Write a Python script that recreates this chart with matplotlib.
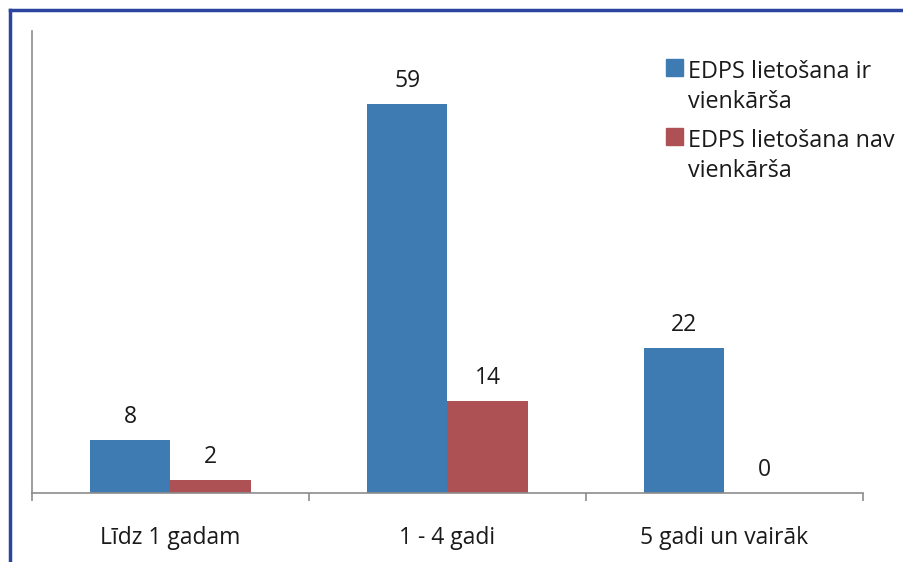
import numpy as np
from matplotlib import pyplot as plt
from matplotlib.lines import Line2D
from matplotlib.patches import Rectangle

categories = ['Līdz 1 gadam', '1 - 4 gadi', '5 gadi un vairāk']
easy_values = [8, 59, 22]
not_easy_values = [2, 14, 0]
series_names = ['EDPS lietošana ir\nvienkārša', 'EDPS lietošana nav\nvienkārša']
series_colors = ['#3F7BB3', '#AE5155']

plt.rcParams['font.family'] = ['Open Sans', 'DejaVu Sans']

W, H = 904, 562
fig = plt.figure(figsize=(W / 100, H / 100), dpi=100)
ax = fig.add_axes([32 / W, (H - 493) / H, (863 - 32) / W, (493 - 31) / H])

x = np.arange(len(categories))
width = 0.289
bars_a = ax.bar(x - width / 2, easy_values, width, color=series_colors[0])
bars_b = ax.bar(x + width / 2, not_easy_values, width, color=series_colors[1])

# value labels above bars
for bars in (bars_a, bars_b):
    for b in bars:
        ax.annotate(str(int(b.get_height())),
                    (b.get_x() + b.get_width() / 2, b.get_height()),
                    xytext=(0, 23), textcoords='offset pixels',
                    ha='center', va='center', fontsize=16.5, color='#1a1a1a')

ax.set_xlim(-0.5, 2.5)
ax.set_ylim(0, 70)

for side in ('top', 'right'):
    ax.spines[side].set_visible(False)
for side in ('left', 'bottom'):
    ax.spines[side].set_color('#8c8c8c')
    ax.spines[side].set_linewidth(1.2)

ax.set_yticks([])
ax.set_xticks(x)
ax.set_xticklabels(categories, fontsize=16.5, color='#1a1a1a')
ax.tick_params(axis='x', which='major', length=0, pad=24)
ax.set_xticks([-0.5, 0.5, 1.5, 2.5], minor=True)
ax.tick_params(axis='x', which='minor', length=6, width=1.2, color='#8c8c8c')

# legend drawn by hand so the squares sit on the first line
for i, (name, col) in enumerate(zip(series_names, series_colors)):
    top = 59 + i * 69
    fig.patches.append(Rectangle((666 / W, 1 - (top + 17) / H), 17 / W, 17 / H,
                                 transform=fig.transFigure, color=col))
    fig.text(688 / W, 1 - (top + 1) / H, name, ha='left', va='top',
             fontsize=16.8, linespacing=1.36, color='#1a1a1a')

# dark blue frame
fig.add_artist(Line2D([9.5 / W, 9.5 / W], [0, 1 - 9.5 / H], color='#2a44a0', lw=2.5,
                      transform=fig.transFigure))
fig.add_artist(Line2D([9.5 / W, 1], [1 - 9.5 / H, 1 - 9.5 / H], color='#2a44a0', lw=2.5,
                      transform=fig.transFigure))

fig.savefig('out.png', dpi=100)
